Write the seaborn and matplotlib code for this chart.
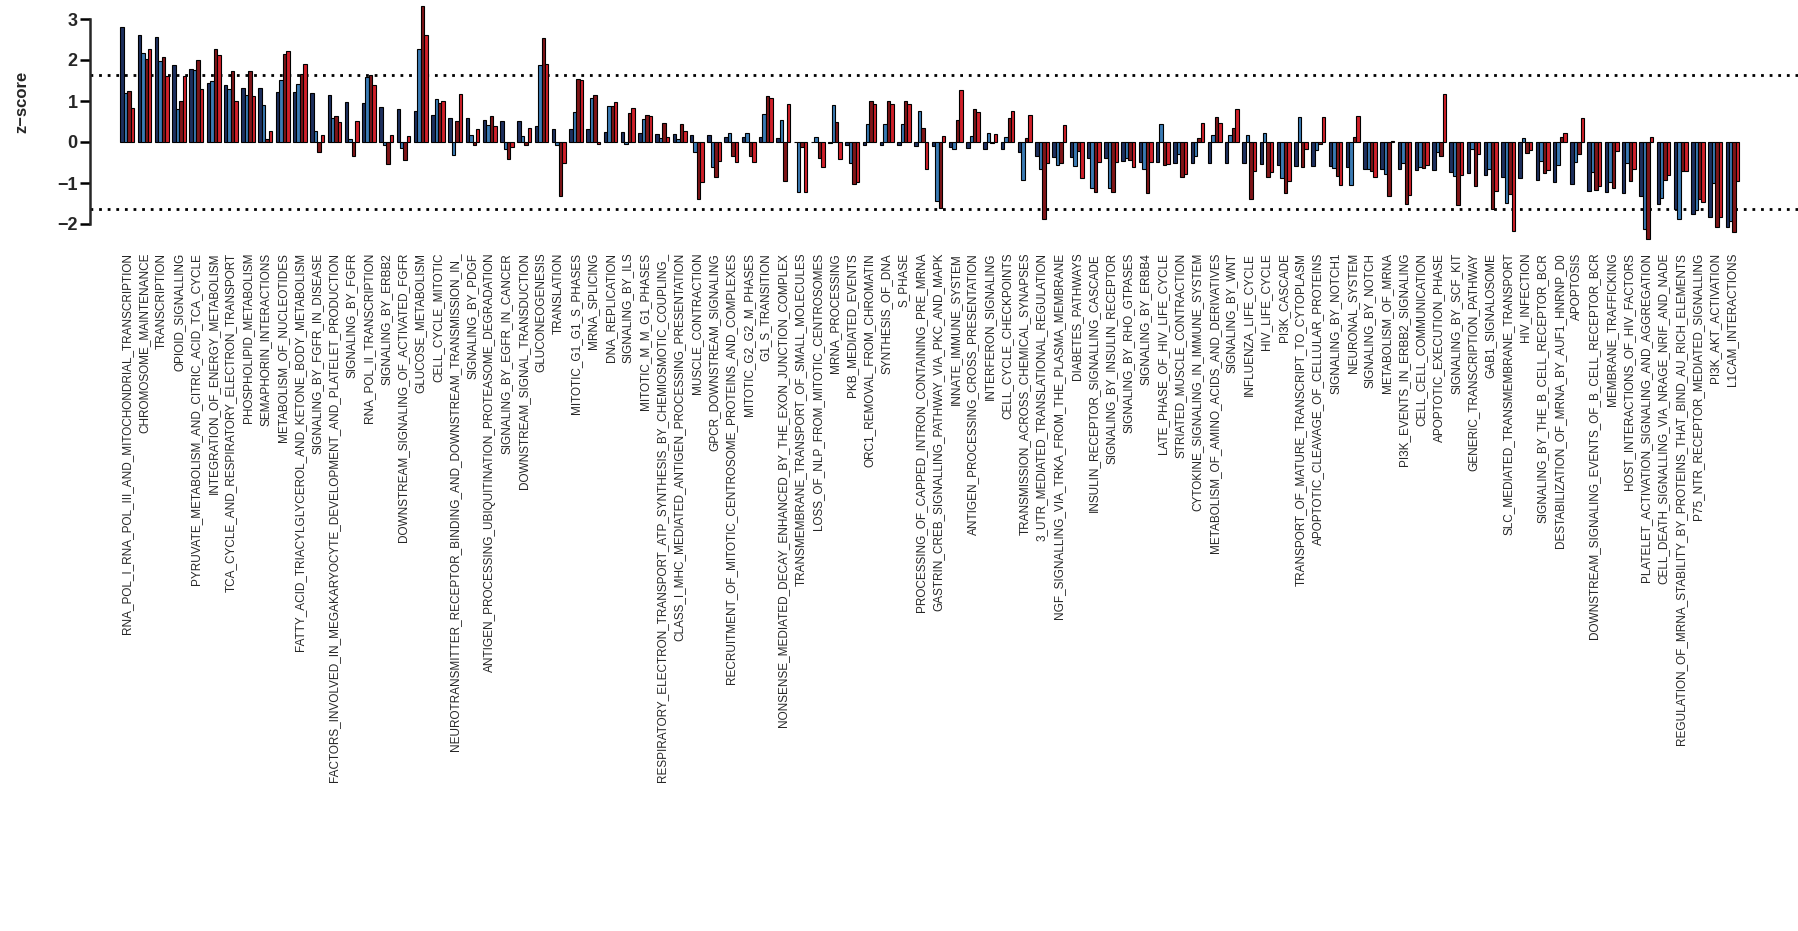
import numpy as np
import pandas as pd
import matplotlib
matplotlib.use("Agg")
import matplotlib.pyplot as plt
import seaborn as sns

pathways = [
    "RNA_POL_I_RNA_POL_III_AND_MITOCHONDRIAL_TRANSCRIPTION",
    "CHROMOSOME_MAINTENANCE",
    "TRANSCRIPTION",
    "OPIOID_SIGNALLING",
    "PYRUVATE_METABOLISM_AND_CITRIC_ACID_TCA_CYCLE",
    "INTEGRATION_OF_ENERGY_METABOLISM",
    "TCA_CYCLE_AND_RESPIRATORY_ELECTRON_TRANSPORT",
    "PHOSPHOLIPID_METABOLISM",
    "SEMAPHORIN_INTERACTIONS",
    "METABOLISM_OF_NUCLEOTIDES",
    "FATTY_ACID_TRIACYLGLYCEROL_AND_KETONE_BODY_METABOLISM",
    "SIGNALING_BY_FGFR_IN_DISEASE",
    "FACTORS_INVOLVED_IN_MEGAKARYOCYTE_DEVELOPMENT_AND_PLATELET_PRODUCTION",
    "SIGNALING_BY_FGFR",
    "RNA_POL_II_TRANSCRIPTION",
    "SIGNALING_BY_ERBB2",
    "DOWNSTREAM_SIGNALING_OF_ACTIVATED_FGFR",
    "GLUCOSE_METABOLISM",
    "CELL_CYCLE_MITOTIC",
    "NEUROTRANSMITTER_RECEPTOR_BINDING_AND_DOWNSTREAM_TRANSMISSION_IN_",
    "SIGNALING_BY_PDGF",
    "ANTIGEN_PROCESSING_UBIQUITINATION_PROTEASOME_DEGRADATION",
    "SIGNALING_BY_EGFR_IN_CANCER",
    "DOWNSTREAM_SIGNAL_TRANSDUCTION",
    "GLUCONEOGENESIS",
    "TRANSLATION",
    "MITOTIC_G1_G1_S_PHASES",
    "MRNA_SPLICING",
    "DNA_REPLICATION",
    "SIGNALING_BY_ILS",
    "MITOTIC_M_M_G1_PHASES",
    "RESPIRATORY_ELECTRON_TRANSPORT_ATP_SYNTHESIS_BY_CHEMIOSMOTIC_COUPLING_",
    "CLASS_I_MHC_MEDIATED_ANTIGEN_PROCESSING_PRESENTATION",
    "MUSCLE_CONTRACTION",
    "GPCR_DOWNSTREAM_SIGNALING",
    "RECRUITMENT_OF_MITOTIC_CENTROSOME_PROTEINS_AND_COMPLEXES",
    "MITOTIC_G2_G2_M_PHASES",
    "G1_S_TRANSITION",
    "NONSENSE_MEDIATED_DECAY_ENHANCED_BY_THE_EXON_JUNCTION_COMPLEX",
    "TRANSMEMBRANE_TRANSPORT_OF_SMALL_MOLECULES",
    "LOSS_OF_NLP_FROM_MITOTIC_CENTROSOMES",
    "MRNA_PROCESSING",
    "PKB_MEDIATED_EVENTS",
    "ORC1_REMOVAL_FROM_CHROMATIN",
    "SYNTHESIS_OF_DNA",
    "S_PHASE",
    "PROCESSING_OF_CAPPED_INTRON_CONTAINING_PRE_MRNA",
    "GASTRIN_CREB_SIGNALLING_PATHWAY_VIA_PKC_AND_MAPK",
    "INNATE_IMMUNE_SYSTEM",
    "ANTIGEN_PROCESSING_CROSS_PRESENTATION",
    "INTERFERON_SIGNALING",
    "CELL_CYCLE_CHECKPOINTS",
    "TRANSMISSION_ACROSS_CHEMICAL_SYNAPSES",
    "3_UTR_MEDIATED_TRANSLATIONAL_REGULATION",
    "NGF_SIGNALLING_VIA_TRKA_FROM_THE_PLASMA_MEMBRANE",
    "DIABETES_PATHWAYS",
    "INSULIN_RECEPTOR_SIGNALLING_CASCADE",
    "SIGNALING_BY_INSULIN_RECEPTOR",
    "SIGNALING_BY_RHO_GTPASES",
    "SIGNALING_BY_ERBB4",
    "LATE_PHASE_OF_HIV_LIFE_CYCLE",
    "STRIATED_MUSCLE_CONTRACTION",
    "CYTOKINE_SIGNALING_IN_IMMUNE_SYSTEM",
    "METABOLISM_OF_AMINO_ACIDS_AND_DERIVATIVES",
    "SIGNALING_BY_WNT",
    "INFLUENZA_LIFE_CYCLE",
    "HIV_LIFE_CYCLE",
    "PI3K_CASCADE",
    "TRANSPORT_OF_MATURE_TRANSCRIPT_TO_CYTOPLASM",
    "APOPTOTIC_CLEAVAGE_OF_CELLULAR_PROTEINS",
    "SIGNALING_BY_NOTCH1",
    "NEURONAL_SYSTEM",
    "SIGNALING_BY_NOTCH",
    "METABOLISM_OF_MRNA",
    "PI3K_EVENTS_IN_ERBB2_SIGNALING",
    "CELL_CELL_COMMUNICATION",
    "APOPTOTIC_EXECUTION_PHASE",
    "SIGNALING_BY_SCF_KIT",
    "GENERIC_TRANSCRIPTION_PATHWAY",
    "GAB1_SIGNALOSOME",
    "SLC_MEDIATED_TRANSMEMBRANE_TRANSPORT",
    "HIV_INFECTION",
    "SIGNALING_BY_THE_B_CELL_RECEPTOR_BCR",
    "DESTABILIZATION_OF_MRNA_BY_AUF1_HNRNP_D0",
    "APOPTOSIS",
    "DOWNSTREAM_SIGNALING_EVENTS_OF_B_CELL_RECEPTOR_BCR",
    "MEMBRANE_TRAFFICKING",
    "HOST_INTERACTIONS_OF_HIV_FACTORS",
    "PLATELET_ACTIVATION_SIGNALING_AND_AGGREGATION",
    "CELL_DEATH_SIGNALLING_VIA_NRAGE_NRIF_AND_NADE",
    "REGULATION_OF_MRNA_STABILITY_BY_PROTEINS_THAT_BIND_AU_RICH_ELEMENTS",
    "P75_NTR_RECEPTOR_MEDIATED_SIGNALLING",
    "PI3K_AKT_ACTIVATION",
    "L1CAM_INTERACTIONS",
]

# z-scores per pathway for the four conditions
cond1 = [2.81, 2.61, 2.55, 1.88, 1.78, 1.44, 1.39, 1.32, 1.31, 1.23,
         1.23, 1.20, 1.14, 0.97, 0.94, 0.85, 0.81, 0.76, 0.65, 0.59,
         0.59, 0.54, 0.52, 0.50, 0.39, 0.32, 0.32, 0.32, 0.25, 0.24,
         0.23, 0.20, 0.19, 0.16, 0.16, 0.13, 0.13, 0.11, 0.10, 0.01,
         -0.01, -0.02, -0.08, -0.08, -0.08, -0.08, -0.10, -0.10, -0.13, -0.15,
         -0.18, -0.18, -0.24, -0.34, -0.36, -0.37, -0.39, -0.39, -0.47, -0.49,
         -0.49, -0.50, -0.50, -0.52, -0.52, -0.52, -0.54, -0.55, -0.59, -0.59,
         -0.59, -0.62, -0.65, -0.67, -0.67, -0.68, -0.68, -0.73, -0.75, -0.81,
         -0.85, -0.88, -0.93, -0.98, -1.02, -1.20, -1.22, -1.25, -1.32, -1.51,
         -1.64, -1.76, -1.82, -2.08]
cond2 = [1.19, 2.18, 1.98, 0.80, 1.76, 1.49, 1.30, 1.14, 0.91, 1.51,
         1.41, 0.28, 0.59, 0.08, 1.58, -0.07, -0.15, 2.26, 1.04, -0.32,
         0.17, 0.42, -0.16, 0.15, 1.89, -0.08, 0.72, 1.08, 0.88, -0.05,
         0.56, 0.09, 0.07, -0.24, -0.62, 0.22, 0.22, 0.68, 0.54, -1.21,
         0.11, 0.90, -0.50, 0.44, 0.44, 0.44, 0.76, -1.45, -0.18, 0.15,
         0.23, 0.11, -0.93, -0.67, -0.57, -0.59, -1.12, -1.12, -0.39, -0.67,
         0.44, -0.29, -0.33, 0.16, 0.16, 0.18, 0.21, -0.89, 0.62, -0.20,
         -0.64, -1.06, -0.65, -0.78, -0.50, -0.60, -0.24, -0.83, -0.18, -0.67,
         -1.48, 0.10, -0.46, -0.55, -0.49, -0.72, -0.98, -0.52, -2.11, -1.37,
         -1.89, -1.66, -0.99, -1.92]
cond3 = [1.25, 2.02, 2.07, 0.99, 1.99, 2.28, 1.73, 1.73, 0.07, 2.14,
         1.66, -0.24, 0.63, -0.34, 1.64, -0.54, -0.44, 3.32, 0.96, 0.52,
         -0.08, 0.63, -0.42, -0.07, 2.53, -1.32, 1.54, 1.15, 0.88, 0.70,
         0.65, 0.46, 0.45, -1.38, -0.85, -0.34, -0.34, 1.12, -0.96, -0.11,
         -0.40, 0.49, -1.02, 0.99, 0.99, 0.99, 0.33, -1.62, 0.54, 0.81,
         -0.03, 0.58, 0.10, -1.89, -0.50, -0.23, -1.23, -1.23, -0.44, -1.25,
         -0.55, -0.85, 0.10, 0.62, 0.33, -1.40, -0.85, -1.25, -0.60, -0.05,
         -0.83, 0.13, -0.70, -1.32, -1.50, -0.63, -0.33, -1.54, -1.07, -1.63,
         -1.27, -0.28, -0.75, 0.11, -0.29, -1.17, -1.12, -0.96, -2.37, -0.93,
         -0.70, -1.38, -2.07, -2.20]
cond4 = [0.83, 2.26, 1.61, 1.61, 1.30, 2.11, 0.99, 1.12, 0.28, 2.21,
         1.90, 0.18, 0.49, 0.52, 1.40, 0.16, 0.15, 2.60, 0.99, 1.17,
         0.31, 0.39, -0.13, 0.33, 1.90, -0.52, 1.51, -0.05, 0.97, 0.82,
         0.63, 0.11, 0.26, -0.98, -0.46, -0.49, -0.49, 1.07, 0.92, -1.23,
         -0.60, -0.42, -0.98, 0.93, 0.93, 0.93, -0.67, 0.15, 1.28, 0.73,
         0.20, 0.76, 0.67, -0.50, 0.41, -0.88, -0.49, -0.49, -0.62, -0.49,
         -0.54, -0.78, 0.47, 0.46, 0.80, -0.70, -0.72, -0.96, -0.16, 0.62,
         -1.06, 0.64, -0.85, 0.03, -1.30, -0.57, 1.17, -0.81, -0.29, -1.20,
         -2.16, -0.20, -0.68, 0.23, 0.59, -1.07, -0.21, -0.65, 0.13, -0.81,
         -0.70, -1.46, -1.82, -0.96]

conditions = ["cond1", "cond2", "cond3", "cond4"]
colors = ["#1d2f5e", "#3b7bb4", "#7f1518", "#d0202a"]
threshold = 1.645

df = pd.DataFrame({
    "pathway": np.repeat(pathways, 4),
    "condition": conditions * len(pathways),
    "z": np.column_stack([cond1, cond2, cond3, cond4]).ravel(),
})

W, H = 1798, 931
fig = plt.figure(figsize=(W / 100, H / 100), dpi=100)
sns.set_style("white")
plt.rcParams["font.family"] = ["Liberation Sans", "DejaVu Sans"]

# plot region in pixels: left edge, height; 0 sits 142 px below the top, 41 px per unit
ax_left, ax_h = 90, 250
zero_px, unit_px = 142, 41
ax = fig.add_axes([ax_left / W, 1 - ax_h / H, (W - ax_left) / W, ax_h / H])

sns.barplot(data=df, x="pathway", y="z", hue="condition",
            order=pathways, hue_order=conditions, palette=colors,
            width=0.8, saturation=1, edgecolor="black", linewidth=0.8,
            errorbar=None, legend=False, ax=ax)

# significance thresholds
for yv in (threshold, -threshold):
    ax.axhline(yv, color="black", lw=2, linestyle=(0, (1, 2.1)), zorder=0)

px_per_cat = 17.26
first_center = 127.3
x0 = -(first_center - ax_left) / px_per_cat
ax.set_xlim(x0, x0 + (W - ax_left) / px_per_cat)
ax.set_ylim((zero_px - ax_h) / unit_px, zero_px / unit_px)

ax.set_yticks([-2, -1, 0, 1, 2, 3])
ax.set_yticklabels(["\u22122", "\u22121", "0", "1", "2", "3"],
                   fontsize=13, fontweight="bold")
ax.tick_params(axis="y", direction="out", length=7.5, width=1.8, pad=1.5,
               left=True, color="black")
ax.spines["left"].set_bounds(-2, 3)
ax.spines["left"].set_linewidth(1.8)
for s in ("top", "right", "bottom"):
    ax.spines[s].set_visible(False)

ax.set_xticks(range(len(pathways)))
ax.set_xticklabels(pathways, rotation=90, fontsize=8.5, ha="center", va="top")
ax.tick_params(axis="x", length=0, pad=2)
ax.set_xlabel("")
ax.set_ylabel("")
fig.text(22 / W, 1 - 102 / H, "z\u2212score", rotation=90, ha="center",
         va="center", fontsize=12, fontweight="bold")

fig.savefig("out.png", dpi=100, facecolor="white")
